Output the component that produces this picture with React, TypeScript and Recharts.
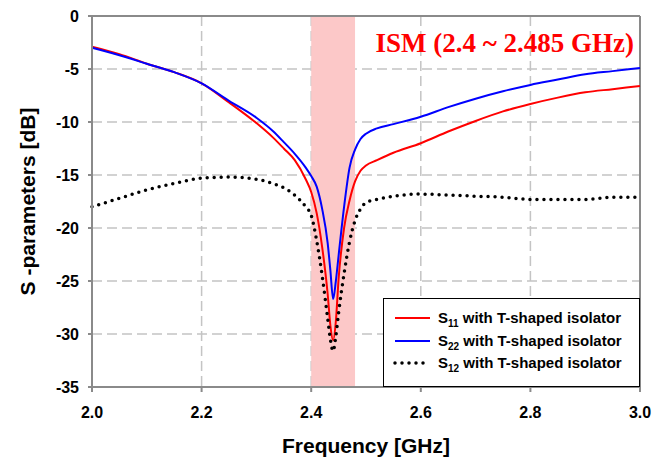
import {
  CartesianGrid,
  Line,
  LineChart,
  ReferenceArea,
  ReferenceLine,
  XAxis,
  YAxis,
} from "recharts";

// frequency points [GHz]
const freqs = [
  2.0, 2.05, 2.1, 2.15, 2.2, 2.25, 2.3, 2.33, 2.35, 2.37, 2.39, 2.4, 2.41, 2.42,
  2.43, 2.435, 2.44, 2.445, 2.45, 2.46, 2.47, 2.48, 2.49, 2.5, 2.52, 2.55, 2.6,
  2.65, 2.7, 2.75, 2.8, 2.85, 2.9, 2.95, 3.0,
];
// S11 [dB]
const s11 = [
  -2.9, -3.6, -4.5, -5.3, -6.35, -8.15, -10.1, -11.45, -12.5, -13.6, -15.4, -16.6,
  -18.6, -21.8, -26.2, -29.2, -30.6, -28.8, -24.8, -20.0, -17.4, -15.6, -14.6,
  -14.1, -13.6, -12.9, -12.0, -10.9, -9.9, -9.0, -8.3, -7.7, -7.2, -6.9, -6.6,
];
// S22 [dB]
const s22 = [
  -3.0, -3.7, -4.5, -5.3, -6.35, -8.0, -9.6, -10.85, -11.9, -13.0, -14.3, -15.1,
  -16.1, -18.2, -21.4, -24.0, -26.7, -25.0, -22.6, -18.0, -14.3, -12.6, -11.6,
  -11.1, -10.6, -10.2, -9.5, -8.6, -7.8, -7.1, -6.5, -6.0, -5.5, -5.2, -4.9,
];
// S12 [dB]
const s12 = [
  -18.0, -17.2, -16.4, -15.8, -15.3, -15.2, -15.4, -15.8, -16.2, -16.9, -18.0,
  -18.8, -21.2, -24.5, -28.5, -30.5, -31.6, -30.2, -28.0, -24.3, -21.3, -19.3,
  -18.2, -17.6, -17.3, -17.0, -16.8, -16.9, -17.0, -17.1, -17.3, -17.3, -17.3,
  -17.1, -17.1,
];

const xTicks = [2.0, 2.2, 2.4, 2.6, 2.8, 3.0];
const yTicks = [0, -5, -10, -15, -20, -25, -30, -35];
const ismBand = [2.4, 2.48];

const data = freqs.map((f, i) => ({ f, s11: s11[i], s22: s22[i], s12: s12[i] }));

const font = "'Liberation Sans', Arial, sans-serif";

const legendItems = [
  { sub: "11", color: "#ff0000", dotted: false },
  { sub: "22", color: "#0000ff", dotted: false },
  { sub: "12", color: "#000000", dotted: true },
];

const LegendBox = () => (
  <div
    style={{
      position: "absolute",
      left: 383,
      top: 298,
      width: 257,
      height: 89,
      boxSizing: "border-box",
      border: "1.5px solid #000",
      background: "#fff",
      padding: "8px 0 0 8px",
      fontFamily: font,
      fontWeight: "bold",
      fontSize: 15,
      color: "#000",
    }}
  >
    {legendItems.map((it) => (
      <div key={it.sub} style={{ display: "flex", alignItems: "center", height: 22.5 }}>
        <svg width={42} height={10} style={{ marginRight: 4 }}>
          <line
            x1={3}
            x2={38}
            y1={5}
            y2={5}
            stroke={it.color}
            strokeWidth={it.dotted ? 3.5 : 2}
            strokeDasharray={it.dotted ? "0 7" : undefined}
            strokeLinecap={it.dotted ? "round" : "butt"}
          />
        </svg>
        <span style={{ whiteSpace: "nowrap", lineHeight: "18px" }}>
          S<sub style={{ fontSize: 10, lineHeight: 0 }}>{it.sub}</sub> with T-shaped
          isolator
        </span>
      </div>
    ))}
  </div>
);

export default function App() {
  return (
    <div style={{ position: "absolute", left: 0, top: 0, width: 653, height: 461 }}>
      <LineChart
        width={653}
        height={461}
        data={data}
        margin={{ top: 16, right: 13, bottom: 44, left: 32 }}
      >
        <ReferenceArea
          x1={ismBand[0]}
          x2={ismBand[1]}
          fill="#fcc8c8"
          fillOpacity={1}
          stroke="none"
        />
        <CartesianGrid stroke="#c4c4c4" strokeWidth={1.5} strokeDasharray="10 5" />
        <ReferenceLine y={0} stroke="#8a8a8a" strokeWidth={2} />
        <ReferenceLine x={3} stroke="#8a8a8a" strokeWidth={2} />
        <XAxis
          dataKey="f"
          type="number"
          domain={[2, 3]}
          ticks={xTicks}
          tickFormatter={(v: number) => v.toFixed(1)}
          height={30}
          tickSize={5}
          tickMargin={15}
          axisLine={{ stroke: "#8a8a8a", strokeWidth: 2 }}
          tickLine={{ stroke: "#8a8a8a", strokeWidth: 2 }}
          tick={{ fill: "#000", fontSize: 16, fontWeight: "bold", fontFamily: font }}
          label={{
            value: "Frequency [GHz]",
            position: "insideBottom",
            offset: -36,
            fill: "#000",
            fontSize: 21,
            fontWeight: "bold",
            fontFamily: font,
          }}
        />
        <YAxis
          type="number"
          domain={[-35, 0]}
          ticks={yTicks}
          width={60}
          tickSize={4}
          tickMargin={9}
          axisLine={{ stroke: "#8a8a8a", strokeWidth: 2 }}
          tickLine={{ stroke: "#8a8a8a", strokeWidth: 2 }}
          tick={{ fill: "#000", fontSize: 16, fontWeight: "bold", fontFamily: font }}
          label={{
            value: "S -parameters [dB]",
            angle: -90,
            position: "insideLeft",
            offset: -4,
            style: { textAnchor: "middle" },
            fill: "#000",
            fontSize: 21,
            fontWeight: "bold",
            fontFamily: font,
          }}
        />
        <Line
          dataKey="s11"
          type="monotone"
          stroke="#ff0000"
          strokeWidth={2}
          dot={false}
          isAnimationActive={false}
        />
        <Line
          dataKey="s22"
          type="monotone"
          stroke="#0000ff"
          strokeWidth={2}
          dot={false}
          isAnimationActive={false}
        />
        <Line
          dataKey="s12"
          type="monotone"
          stroke="#000000"
          strokeWidth={3.5}
          strokeDasharray="0 7"
          strokeLinecap="round"
          dot={false}
          isAnimationActive={false}
        />
        <text
          x={634}
          y={52}
          textAnchor="end"
          fill="#ff0000"
          fontSize={27}
          fontWeight="bold"
          fontFamily="'Liberation Serif', 'Times New Roman', serif"
        >
          ISM (2.4 ~ 2.485 GHz)
        </text>
      </LineChart>
      <LegendBox />
    </div>
  );
}
